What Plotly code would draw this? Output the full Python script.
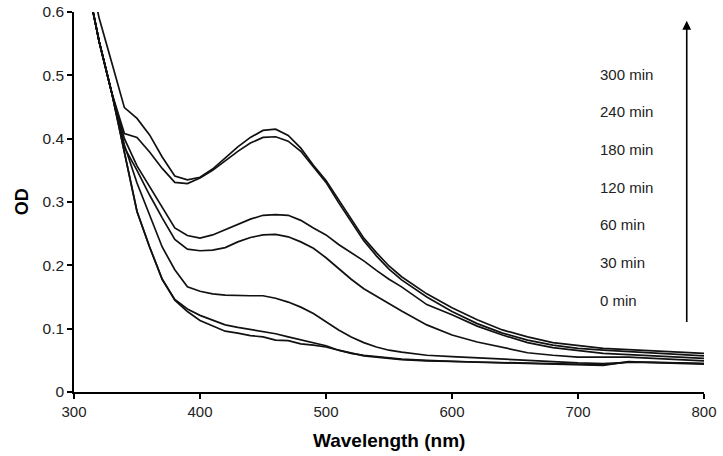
import plotly.graph_objects as go

wavelength = [310, 320, 330, 340, 350, 360, 370, 380, 390, 400, 410, 420, 430, 440, 450,
              460, 470, 480, 490, 500, 510, 520, 530, 540, 550, 560, 580, 600, 620, 640,
              660, 680, 700, 720, 740, 760, 780, 800]

od_300 = [0.68, 0.59, 0.52, 0.449, 0.432, 0.406, 0.371, 0.341, 0.335, 0.339, 0.352, 0.369, 0.387, 0.402, 0.413,
          0.415, 0.405, 0.385, 0.358, 0.334, 0.303, 0.272, 0.243, 0.220, 0.199, 0.182, 0.155, 0.133, 0.114, 0.098,
          0.087, 0.078, 0.073, 0.069, 0.067, 0.065, 0.063, 0.061]
od_240 = [0.65, 0.553, 0.472, 0.408, 0.402, 0.379, 0.353, 0.331, 0.329, 0.338, 0.350, 0.365, 0.380, 0.393, 0.402,
          0.403, 0.396, 0.380, 0.355, 0.331, 0.299, 0.268, 0.239, 0.215, 0.194, 0.177, 0.150, 0.127, 0.108, 0.093,
          0.082, 0.074, 0.069, 0.066, 0.064, 0.061, 0.059, 0.057]
od_180 = [0.65, 0.553, 0.472, 0.400, 0.357, 0.325, 0.291, 0.259, 0.247, 0.243, 0.248, 0.256, 0.264, 0.273, 0.279,
          0.280, 0.279, 0.271, 0.259, 0.248, 0.233, 0.220, 0.207, 0.192, 0.178, 0.166, 0.138, 0.122, 0.104, 0.090,
          0.078, 0.070, 0.065, 0.061, 0.059, 0.057, 0.055, 0.053]
od_120 = [0.65, 0.553, 0.472, 0.386, 0.350, 0.311, 0.275, 0.241, 0.2255, 0.223, 0.224, 0.228, 0.237, 0.244, 0.248,
          0.249, 0.245, 0.237, 0.227, 0.212, 0.195, 0.178, 0.163, 0.151, 0.139, 0.128, 0.106, 0.090, 0.079, 0.070,
          0.062, 0.058, 0.055, 0.055, 0.055, 0.053, 0.051, 0.049]
od_60 = [0.65, 0.553, 0.472, 0.390, 0.330, 0.278, 0.229, 0.193, 0.166, 0.159, 0.155, 0.153, 0.152, 0.152, 0.152,
         0.148, 0.142, 0.134, 0.124, 0.111, 0.098, 0.087, 0.078, 0.071, 0.066, 0.063, 0.058, 0.056, 0.054, 0.052,
         0.049, 0.047, 0.046, 0.045, 0.047, 0.047, 0.046, 0.045]
od_30 = [0.65, 0.553, 0.472, 0.380, 0.285, 0.229, 0.178, 0.146, 0.131, 0.121, 0.113, 0.106, 0.102, 0.099, 0.096,
         0.092, 0.087, 0.082, 0.078, 0.073, 0.066, 0.061, 0.057, 0.055, 0.053, 0.051, 0.049, 0.048, 0.047, 0.046,
         0.045, 0.045, 0.044, 0.043, 0.047, 0.047, 0.046, 0.045]
od_0 = [0.65, 0.553, 0.472, 0.380, 0.285, 0.229, 0.178, 0.145, 0.127, 0.113, 0.104, 0.096, 0.093, 0.089, 0.087,
        0.082, 0.081, 0.076, 0.074, 0.071, 0.066, 0.061, 0.058, 0.056, 0.054, 0.052, 0.050, 0.048, 0.047, 0.046,
        0.045, 0.044, 0.043, 0.042, 0.048, 0.046, 0.045, 0.044]

series = [od_300, od_240, od_180, od_120, od_60, od_30, od_0]
time_labels = ["300 min", "240 min", "180 min", "120 min", "60 min", "30 min", "0 min"]

x_ticks = [300, 400, 500, 600, 700, 800]
y_ticks = [0, 0.1, 0.2, 0.3, 0.4, 0.5, 0.6]
y_tick_text = ["0", "0.1", "0.2", "0.3", "0.4", "0.5", "0.6"]

FONT = "Liberation Sans, Arial, sans-serif"
TXT = "#222222"

fig = go.Figure()
for vals, lab in zip(series, time_labels):
    fig.add_trace(go.Scatter(x=wavelength, y=vals, mode="lines", name=lab,
                             line=dict(color="#111111", width=1.7), showlegend=False))

# time labels
top_y = 0.502
step = 0.0595
for i, lab in enumerate(time_labels):
    fig.add_annotation(x=716, y=top_y - i * step, xref="x", yref="y", text=lab,
                       showarrow=False, xanchor="left", yanchor="middle",
                       font=dict(family=FONT, size=15, color=TXT))

# arrow
fig.add_annotation(x=786.3, y=0.586, ax=786.3, ay=0.108, xref="x", yref="y",
                   axref="x", ayref="y", text="", showarrow=True,
                   arrowhead=2, arrowsize=1.1, arrowwidth=1.6, arrowcolor="black")

# axis titles
fig.add_annotation(x=0.5, y=-0.128, xref="paper", yref="paper", text="<b>Wavelength (nm)</b>",
                   showarrow=False, xanchor="center", yanchor="middle",
                   font=dict(family=FONT, size=19, color="black"))
fig.add_annotation(x=-0.082, y=0.5, xref="paper", yref="paper", text="<b>OD</b>",
                   showarrow=False, xanchor="center", yanchor="middle", textangle=-90,
                   font=dict(family=FONT, size=18, color="black"))

fig.update_layout(
    width=723, height=456,
    margin=dict(l=74, r=19, t=12, b=64),
    paper_bgcolor="white", plot_bgcolor="white",
    font=dict(family=FONT, size=15, color=TXT),
)
fig.update_xaxes(range=[300, 800], tickvals=x_ticks, ticks="outside", ticklen=5,
                 tickwidth=1.5, tickcolor="black", showline=True, linecolor="black",
                 linewidth=1.5, showgrid=False, zeroline=False, automargin=False,
                 tickfont=dict(family=FONT, size=15, color=TXT))
fig.update_yaxes(range=[0, 0.6], tickvals=y_ticks, ticktext=y_tick_text, ticks="outside",
                 ticklen=5, tickwidth=1.5, tickcolor="black", showline=True,
                 linecolor="black", linewidth=1.5, showgrid=False, zeroline=False,
                 automargin=False, ticklabeloverflow="allow",
                 tickfont=dict(family=FONT, size=15.5, color=TXT))

# remove the browser's default 8px page margin so the figure fills the window exactly
fig.write_html("out.html", config={"displayModeBar": False},
               post_script="document.body.style.margin='0';document.body.style.overflow='hidden';")
